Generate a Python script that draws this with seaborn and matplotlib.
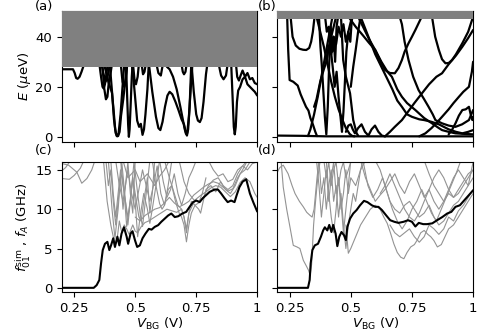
import matplotlib
matplotlib.use("Agg")
import matplotlib.pyplot as plt
import seaborn as sns

# ---- panel (a): quasiparticle spectrum E (ueV) vs V_BG, device 1 ----
a1_v = [0.20, 0.245, 0.252, 0.258, 0.264, 0.272, 0.28, 0.287, 0.292]
a1_e = [27, 27, 25.5, 23.5, 23.2, 24, 26, 28, 30]
a2_v = [0.37, 0.39, 0.405, 0.412, 0.418, 0.424, 0.43, 0.436, 0.442, 0.451, 0.46, 0.468]
a2_e = [30, 22, 17.5, 10, 3, 0.4, 0.3, 2, 8.5, 15, 23, 30]
a3_v = [0.395, 0.405, 0.413, 0.42, 0.426, 0.432, 0.44, 0.448, 0.456]
a3_e = [30, 18, 7, 1.5, 0.2, 1.5, 9, 20, 30]
a4_v = [0.352, 0.36, 0.366, 0.371, 0.376, 0.382, 0.388]
a4_e = [30, 24, 20, 19.3, 21, 25, 30]
a5_v = [0.462, 0.467, 0.471, 0.474, 0.477, 0.481, 0.486, 0.49]
a5_e = [30, 16, 5, 0, 3, 12, 24, 30]
a6_v = [0.485, 0.492, 0.499, 0.508, 0.516, 0.523, 0.53, 0.536, 0.542, 0.55, 0.556]
a6_e = [30, 24, 16.5, 6.5, 4, 5.2, 0.8, 3, 9, 19, 30]
a7_v = [0.49, 0.497, 0.503, 0.51, 0.516]
a7_e = [30, 23, 21, 24, 30]
a8_v = [0.555, 0.57, 0.585, 0.595, 0.603, 0.612, 0.622, 0.632, 0.641, 0.652, 0.665,
        0.678, 0.69, 0.70, 0.707, 0.712, 0.717, 0.723, 0.73]
a8_e = [30, 18, 8, 3.5, 2.7, 6, 12, 16.5, 18, 17, 14, 10.5, 7, 5, 2, 0.5, 3, 12, 30]
a9_v = [0.62, 0.63, 0.641, 0.655, 0.67, 0.685, 0.695, 0.703, 0.708, 0.713, 0.72, 0.728, 0.735]
a9_e = [30, 28, 27, 24, 19, 12, 7, 3, 1.2, 1.5, 8, 20, 30]
a10_v = [0.688, 0.695, 0.70, 0.706, 0.712]
a10_e = [30, 26, 25, 26, 30]
a11_v = [0.73, 0.74, 0.75, 0.757, 0.765, 0.772, 0.78, 0.79, 0.797]
a11_e = [30, 18, 9, 6.5, 5.9, 7.5, 14, 25, 30]
a12_v = [0.84, 0.852, 0.862, 0.872, 0.88]
a12_e = [30, 24.5, 23, 24.5, 30]
a13_v = [0.893, 0.899, 0.904, 0.908, 0.912, 0.917, 0.922, 0.93, 0.94, 0.95, 0.96, 0.97,
         0.98, 0.99, 1.0]
a13_e = [30, 16, 4, 1, 4, 14, 18.5, 20, 23, 24, 21, 20, 19, 18, 16.5]
a14_v = [0.912, 0.918, 0.925, 0.932, 0.94, 0.95, 0.96, 0.97, 0.98, 0.99, 1.0]
a14_e = [30, 24, 22.5, 24.5, 26.5, 24, 25.5, 23, 23.5, 21.5, 21]
a15_v = [0.36, 0.368, 0.378, 0.386, 0.392, 0.398]
a15_e = [30, 26, 22, 23.5, 27, 30]
a16_v = [0.525, 0.532, 0.538, 0.545]
a16_e = [30, 25, 26, 30]
a17_v = [0.365, 0.372, 0.38, 0.386, 0.392, 0.40, 0.406]
a17_e = [30, 20, 15, 16, 22, 26, 30]
a18_v = [0.44, 0.448, 0.455, 0.462, 0.468]
a18_e = [30, 22, 20, 23, 30]
a19_v = [0.585, 0.595, 0.605, 0.615]
a19_e = [30, 25.5, 24.5, 30]
a_gap = 28  # bottom of grey continuum in (a)

# ---- panel (b): spectrum, device 2 ----
b0_v = [0.2, 0.3, 0.4, 0.5, 0.6, 0.7, 0.8, 0.9, 1.0]
b0_e = [0.5, 0.4, 0.2, 0.2, 0.2, 0.2, 0.2, 0.2, 0.2]
b1_v = [0.24, 0.244, 0.25, 0.265, 0.283, 0.295, 0.305, 0.317, 0.327, 0.335, 0.345, 0.355, 0.362]
b1_e = [48, 35, 22.7, 22, 20.5, 17, 14.7, 12, 10.5, 7.5, 5, 2, 0.3]
b2_v = [0.254, 0.262, 0.275, 0.29, 0.305, 0.318, 0.33, 0.338, 0.345, 0.352]
b2_e = [48, 40, 36.5, 35.2, 34.8, 34.7, 35.5, 38, 42, 48]
b3_v = [0.325, 0.335, 0.35, 0.365, 0.38, 0.395, 0.41, 0.425]
b3_e = [0.3, 3, 9, 16, 24, 32, 40, 48]
b4_v = [0.36, 0.375, 0.39, 0.405, 0.42, 0.435, 0.45, 0.465, 0.48, 0.495, 0.505, 0.515]
b4_e = [48, 42, 36, 29, 22, 16, 11, 7, 3.5, 1.2, 0.4, 0.2]
b5_v = [0.37, 0.376, 0.382, 0.388, 0.394, 0.40, 0.406, 0.412, 0.418, 0.424, 0.43, 0.436,
        0.442, 0.448]
b5_e = [48, 36, 28, 18, 8, 1, 12, 30, 44, 34, 40, 30, 44, 48]
b6_v = [0.395, 0.402, 0.41, 0.418, 0.426, 0.434, 0.442, 0.45, 0.458, 0.464, 0.47, 0.476,
        0.482, 0.49, 0.498, 0.505]
b6_e = [48, 42, 44, 35, 28, 20, 26, 16, 8, 2, 10, 22, 34, 42, 38, 48]
b7_v = [0.40, 0.41, 0.42, 0.43, 0.44, 0.45, 0.46, 0.47, 0.48, 0.49, 0.50, 0.51]
b7_e = [30, 36, 33, 40, 37, 44, 40, 45, 38, 42, 46, 48]
b8_v = [0.48, 0.49, 0.50, 0.508, 0.517, 0.53, 0.544, 0.558, 0.572, 0.585, 0.599, 0.613,
        0.627, 0.64]
b8_e = [2, 4.5, 5, 3, 1.4, 3.5, 5, 2, 0.5, 3, 4.5, 2, 0.5, 0.2]
b9_v = [0.53, 0.55, 0.575, 0.60, 0.625, 0.65, 0.668, 0.69, 0.709, 0.73, 0.764, 0.80,
        0.832, 0.86, 0.873, 0.90, 0.928, 0.96, 1.0]
b9_e = [48, 44, 39, 34.7, 30, 26, 24, 19, 16, 13.5, 10.7, 7.5, 5.4, 3.5, 2.7, 2, 1.4, 1.2, 1.0]
b10_v = [0.54, 0.56, 0.58, 0.60, 0.625, 0.65, 0.67, 0.69, 0.709, 0.73, 0.75, 0.78, 0.80,
         0.83, 0.86, 0.88, 0.90, 0.93, 0.956, 0.98, 1.0]
b10_e = [48, 43, 38, 33, 28, 23, 19, 14.5, 12, 9, 8, 7, 6.7, 6, 5, 4, 3, 2, 1.4, 2, 2.7]
b11_v = [0.49, 0.52, 0.55, 0.575, 0.60, 0.62, 0.64, 0.66, 0.68, 0.695, 0.709, 0.72,
         0.736, 0.75, 0.764, 0.79]
b11_e = [48, 44, 40.5, 37.5, 34.7, 30.5, 26.7, 25.5, 25.4, 27.5, 30.7, 34, 37.4, 40, 42.7, 48]
b12_v = [0.64, 0.66, 0.68, 0.709, 0.73, 0.76, 0.791, 0.82, 0.85, 0.873, 0.90, 0.93,
         0.956, 0.98, 1.0]
b12_e = [0.2, 2, 4, 6.7, 9.5, 13.5, 17.4, 21, 24, 25.4, 29, 32.5, 36, 39.5, 42.7]
b13_v = [0.78, 0.805, 0.83, 0.85, 0.873, 0.90, 0.92, 0.942, 0.96, 0.983, 0.995, 1.0]
b13_e = [0.2, 1.4, 3.5, 5.5, 8, 11, 13.5, 16, 18, 20, 26, 30]
b14_v = [0.832, 0.845, 0.86, 0.873, 0.887, 0.9, 0.914, 0.93, 0.956, 0.98, 1.0]
b14_e = [48, 40, 34.7, 31, 29.4, 29.5, 30.7, 33, 37.4, 42, 48]
b15_v = [0.90, 0.915, 0.928, 0.942, 0.956, 0.97, 0.983, 0.99, 0.997, 1.0]
b15_e = [1, 3, 5.4, 8.5, 10.7, 11, 12, 9, 6.7, 8]
b16_v = [0.70, 0.709, 0.72, 0.736, 0.755, 0.777, 0.80, 0.818, 0.835, 0.846, 0.873, 0.90,
         0.928, 0.955, 0.983, 1.0]
b16_e = [48, 45, 38, 30.7, 24, 18.7, 15, 12, 9, 6.7, 5.4, 4.5, 4, 5, 6.7, 10.7]
b17_v = [0.35, 0.36, 0.375, 0.39, 0.40, 0.41, 0.425, 0.44]
b17_e = [12, 15, 22, 27, 30, 36, 42, 48]
b18_v = [0.46, 0.469, 0.48, 0.497, 0.51, 0.524, 0.53]
b18_e = [48, 30.7, 24, 17.4, 6.7, 1.4, 0.5]
b19_v = [0.50, 0.51, 0.52, 0.53, 0.54]
b19_e = [20, 28, 34.7, 42, 48]
b_gap = 47  # bottom of grey continuum in (b)

# ---- panel (c): f_A (black) and simulated f01 (grey), device 1 ----
c_fa_v = [0.20, 0.33, 0.342, 0.353, 0.36, 0.367, 0.376, 0.386, 0.394, 0.401, 0.41, 0.417,
          0.427, 0.435, 0.444, 0.454, 0.465, 0.471, 0.481, 0.489, 0.499, 0.508, 0.519,
          0.53, 0.542, 0.556, 0.567, 0.58, 0.594, 0.607, 0.621, 0.635, 0.648, 0.662,
          0.676, 0.693, 0.709, 0.723, 0.737, 0.75, 0.764, 0.777, 0.791, 0.805, 0.825,
          0.839, 0.852, 0.866, 0.879, 0.893, 0.907, 0.916, 0.927, 0.94, 0.955, 0.97,
          0.985, 1.0]
c_fa_f = [0, 0, 0.34, 1, 3.1, 4.8, 5.6, 5.85, 4.8, 5.4, 6.3, 5.2, 6.5, 5.4, 6.9, 7.7, 6.5,
          5.6, 6.9, 7.2, 6.06, 5.2, 5.4, 6.3, 6.9, 7.5, 7.4, 7.75, 7.97, 8.4, 8.8, 9.2,
          9.45, 9.0, 9.1, 9.45, 9.66, 10.3, 10.9, 11.1, 10.9, 11.4, 11.8, 12.2, 12.5,
          12.5, 12, 11.4, 10.9, 11.1, 10.9, 11.8, 12.8, 13.5, 13.8, 12, 10.8, 9.7]
cg1_v = [0.2, 0.227, 0.261, 0.281, 0.302, 0.322, 0.335]
cg1_f = [15.8, 15.6, 14.7, 13.3, 13.9, 15, 16.2]
cg2_v = [0.2, 0.23, 0.25, 0.275, 0.29]
cg2_f = [13.9, 13.8, 14.3, 15.2, 16.2]
cg3_v = [0.2, 0.215, 0.235]
cg3_f = [14.9, 15.3, 16.2]
cg4_v = [0.37, 0.385, 0.40, 0.41, 0.418, 0.425, 0.435, 0.445, 0.455, 0.465, 0.475, 0.49,
         0.50, 0.51, 0.525, 0.54, 0.555, 0.57, 0.59, 0.61, 0.63, 0.65, 0.67, 0.69, 0.70,
         0.71, 0.72, 0.735, 0.75, 0.77, 0.79, 0.81, 0.83, 0.85, 0.87, 0.89, 0.91, 0.93,
         0.95, 0.97, 0.99, 1.0]
cg4_f = [16.2, 11, 8, 6.5, 5.5, 6, 8.5, 7, 8, 7.5, 6.8, 8, 7.2, 7, 7.8, 8.3, 8.5, 8.8,
         9.2, 9.6, 10, 9.8, 9.6, 10, 9, 7.5, 9.5, 10.5, 11.3, 11.8, 12.2, 12.7, 13, 12.8,
         12.2, 11.6, 12.2, 13.4, 14, 13.5, 12, 11.5]
cg5_v = [0.39, 0.405, 0.417, 0.43, 0.445, 0.46, 0.47, 0.48, 0.495, 0.51, 0.52, 0.53, 0.545, 0.56]
cg5_f = [16.2, 10, 6.3, 10, 16, 11, 8, 11, 16, 12, 9.5, 7.8, 12, 16.2]
cg6_v = [0.40, 0.41, 0.42, 0.43, 0.44, 0.455, 0.465, 0.475, 0.49, 0.50, 0.515, 0.525,
         0.535, 0.55, 0.56, 0.57, 0.58]
cg6_f = [16.2, 12, 9, 12, 15, 12, 7.8, 10, 14, 12, 9, 8.6, 11, 14, 9.5, 12, 16.2]
cg7_v = [0.42, 0.435, 0.45, 0.46, 0.47, 0.485, 0.50, 0.515, 0.53, 0.545, 0.56, 0.575,
         0.59, 0.605, 0.62, 0.635, 0.65]
cg7_f = [16.2, 13, 11, 13, 15, 12, 10, 12.5, 15, 13, 11, 13, 15.5, 12, 10.5, 13, 16.2]
cg8_v = [0.57, 0.585, 0.60, 0.61, 0.62, 0.635, 0.65, 0.665, 0.68, 0.69, 0.70, 0.71, 0.72,
         0.73, 0.745, 0.76, 0.775, 0.79]
cg8_f = [16.2, 13, 10.7, 10, 10.5, 12.5, 13, 11, 9.5, 9, 8, 5.85, 8, 9.5, 10.5, 10.8, 12, 14]
cg9_v = [0.62, 0.64, 0.66, 0.675, 0.69, 0.70, 0.71, 0.72, 0.73, 0.745, 0.76, 0.768, 0.775,
         0.79, 0.81, 0.83, 0.85, 0.87, 0.89, 0.91, 0.93, 0.95, 0.97, 0.99]
cg9_f = [16.2, 14, 12, 10.5, 10, 9, 7, 9.5, 11, 10.5, 10, 9.5, 10.5, 12.5, 13, 12.2, 13.5,
         12.5, 12, 13, 14.5, 15, 16, 16.2]
cg10_v = [0.68, 0.70, 0.72, 0.74, 0.76, 0.78, 0.80, 0.82, 0.84, 0.86, 0.88, 0.90, 0.92, 0.94, 0.96]
cg10_f = [16.2, 13.5, 12, 11.2, 11, 11.5, 13, 13.7, 14, 13, 12.5, 13, 14.5, 15.5, 16.2]
cg11_v = [0.80, 0.82, 0.84, 0.86, 0.88, 0.90, 0.92, 0.94, 0.96, 0.98, 1.0]
cg11_f = [16.2, 15, 14.2, 14.5, 13.5, 13.8, 15, 15.5, 15, 15.8, 16]
cg12_v = [0.45, 0.47, 0.50, 0.52, 0.55, 0.58, 0.60, 0.62, 0.64]
cg12_f = [16.2, 14, 15, 13.5, 14.5, 13, 14.2, 15, 16.2]
cg13_v = [0.38, 0.39, 0.40, 0.41, 0.42, 0.43, 0.44, 0.45, 0.46, 0.47, 0.48, 0.49, 0.50]
cg13_f = [16.2, 13, 15, 11, 8, 11, 14, 10, 13, 16, 12, 9.5, 16.2]
cg14_v = [0.50, 0.52, 0.54, 0.56, 0.58, 0.60, 0.62, 0.64, 0.66, 0.68, 0.70, 0.72, 0.74,
          0.76, 0.78, 0.80, 0.82, 0.84, 0.86, 0.88, 0.90, 0.92, 0.94, 0.96]
cg14_f = [9, 8.5, 9.2, 9.6, 10, 10.2, 10.8, 11.5, 10.8, 10.3, 10.6, 11, 11.8, 12.3, 12.8,
          13.2, 13.5, 13.3, 12.8, 12.3, 12.6, 14, 15, 16.2]
cg15_v = [0.44, 0.455, 0.47, 0.48, 0.49, 0.50, 0.51, 0.52, 0.535, 0.55, 0.56, 0.57, 0.585, 0.60]
cg15_f = [16.2, 12, 9, 11, 14, 11, 6.5, 9, 12, 10, 8.2, 10, 13, 16.2]
cg16_v = [0.60, 0.615, 0.63, 0.645, 0.66, 0.675, 0.69, 0.705, 0.72, 0.735, 0.75]
cg16_f = [16.2, 13.5, 11.5, 12.5, 14.5, 12, 10.5, 12, 14, 15, 16.2]

# ---- panel (d): f_A (black) and simulated f01 (grey), device 2 ----
d_fa_v = [0.20, 0.325, 0.332, 0.336, 0.343, 0.353, 0.366, 0.378, 0.387, 0.394, 0.404,
          0.412, 0.421, 0.428, 0.438, 0.445, 0.453, 0.462, 0.472, 0.48, 0.486, 0.497,
          0.51, 0.524, 0.538, 0.554, 0.568, 0.586, 0.6, 0.613, 0.627, 0.645, 0.661,
          0.678, 0.695, 0.716, 0.734, 0.75, 0.764, 0.778, 0.796, 0.812, 0.833, 0.853,
          0.874, 0.894, 0.911, 0.928, 0.946, 0.963, 0.983, 1.0]
d_fa_f = [0, 0, 1, 3.1, 4.8, 5.4, 5.6, 6.5, 7.3, 7.7, 7.3, 8.0, 7.1, 8.0, 6.9, 5.3, 6.5,
          7.1, 6.7, 6.06, 7.75, 8.8, 9.45, 9.9, 10.5, 11.06, 10.9, 10.5, 10.3, 10.3, 9.9,
          9.2, 8.6, 8.4, 8.26, 8.4, 8.6, 8.4, 7.8, 8.26, 8.1, 8.1, 8.2, 8.6, 9.0, 9.45,
          9.66, 10.3, 10.5, 11.1, 11.8, 12.4]
dg1_v = [0.198, 0.21, 0.224, 0.244, 0.26, 0.272, 0.29, 0.306, 0.32, 0.334, 0.342, 0.35,
         0.356, 0.362, 0.37]
dg1_f = [14.6, 15.3, 15.6, 14.5, 13, 12, 11, 10.3, 9.6, 9.2, 9, 10, 12, 14, 16.2]
dg2_v = [0.215, 0.224, 0.238, 0.251, 0.265, 0.28, 0.292, 0.306, 0.318, 0.327, 0.334,
         0.34, 0.348, 0.356, 0.365, 0.375]
dg2_f = [16.2, 12.8, 10, 7.8, 5.4, 5.2, 5, 3.5, 2.8, 2.25, 1.6, 3, 8, 11, 14, 16.2]
dg3_v = [0.37, 0.38, 0.39, 0.40, 0.41, 0.42, 0.43, 0.44, 0.45, 0.46, 0.47, 0.48, 0.49,
         0.50, 0.51, 0.52, 0.53, 0.54, 0.55]
dg3_f = [16.2, 12, 14, 10, 13, 15, 11, 13, 9, 12, 8, 5, 8, 10, 12, 11, 13, 15, 16.2]
dg4_v = [0.36, 0.37, 0.38, 0.39, 0.40, 0.41, 0.42, 0.43, 0.44, 0.45, 0.46, 0.47, 0.48,
         0.49, 0.50, 0.52, 0.54, 0.56]
dg4_f = [16.2, 13, 9, 12, 15, 11, 14, 16, 12, 14, 10, 12, 15, 12, 14, 13, 15, 16.2]
dg5_v = [0.39, 0.40, 0.41, 0.42, 0.43, 0.44, 0.45, 0.46, 0.47, 0.48, 0.49, 0.50, 0.51]
dg5_f = [16.2, 14, 16, 13, 15, 16, 13, 15, 16, 14, 15, 16, 16.2]
dg6_v = [0.48, 0.49, 0.50, 0.52, 0.54, 0.56, 0.58, 0.60, 0.62, 0.635, 0.649, 0.662, 0.676,
         0.69, 0.704, 0.717, 0.73, 0.745, 0.76, 0.772, 0.786, 0.80, 0.815, 0.827, 0.84,
         0.854, 0.87, 0.885, 0.90, 0.92, 0.94, 0.96, 0.98, 1.0]
dg6_f = [8, 4.4, 5, 6.5, 8, 9, 10, 10.5, 10, 9, 8.2, 7, 5.6, 4.5, 3.9, 3.7, 4.5, 5.2, 5.5,
         6.1, 7, 7.3, 6.8, 6.5, 6, 5.2, 5.5, 6.5, 7.5, 8, 9, 10, 11, 12]
dg7_v = [0.54, 0.56, 0.58, 0.60, 0.62, 0.64, 0.66, 0.68, 0.70, 0.72, 0.74, 0.76, 0.78,
         0.80, 0.82, 0.84, 0.86, 0.88, 0.90, 0.92, 0.94, 0.96, 0.98, 1.0]
dg7_f = [16.2, 14, 12.5, 11, 11.8, 12.5, 13.5, 14.5, 13, 12, 13.5, 14.5, 13, 11.5, 12.5,
         14, 15, 14, 12.5, 11.5, 12, 13, 14, 15]
dg8_v = [0.60, 0.62, 0.64, 0.66, 0.68, 0.70, 0.72, 0.74, 0.76, 0.78, 0.80, 0.82, 0.84,
         0.86, 0.88, 0.90, 0.92, 0.94, 0.96, 0.98, 1.0]
dg8_f = [16.2, 15, 13, 11, 10, 9.5, 10.5, 11, 10, 9, 9.5, 10.5, 9, 8, 8.5, 9.5, 10.5, 11,
         12, 13, 14]
dg9_v = [0.66, 0.68, 0.70, 0.72, 0.74, 0.76, 0.78, 0.80, 0.82, 0.84, 0.86, 0.88, 0.90,
         0.92, 0.94, 0.96, 0.98, 1.0]
dg9_f = [8, 7, 6.5, 7, 7.5, 6.5, 5.8, 6.5, 8, 7.5, 6.8, 7.5, 9, 8.5, 9.8, 10.5, 11.5, 12.5]
dg10_v = [0.80, 0.82, 0.84, 0.86, 0.88, 0.90, 0.92, 0.94, 0.96, 0.98, 1.0]
dg10_f = [16.2, 14.5, 13, 12, 11, 12.5, 14, 15, 14, 13, 16]
dg11_v = [0.55, 0.57, 0.59, 0.61, 0.63, 0.65, 0.67, 0.69, 0.71, 0.73, 0.75, 0.77, 0.79,
          0.81, 0.83, 0.85, 0.87, 0.89, 0.91, 0.93, 0.95]
dg11_f = [16.2, 13, 11.5, 12.5, 14, 12, 10, 8.5, 7.5, 8.5, 10, 11, 12.5, 11, 9.5, 8.5, 10,
          11.5, 13, 14.5, 16.2]
dg12_v = [0.62, 0.64, 0.66, 0.68, 0.70, 0.72, 0.74, 0.76, 0.78, 0.80, 0.82, 0.84, 0.86,
          0.88, 0.90, 0.92, 0.94, 0.96, 0.98, 1.0]
dg12_f = [12, 13, 14.5, 13, 11.5, 10, 9, 8.5, 9.5, 11, 12.5, 11, 10, 11, 12, 11.5, 12.5,
          13.5, 14.5, 15]
dg13_v = [0.40, 0.41, 0.42, 0.43, 0.44, 0.45, 0.46, 0.47, 0.48, 0.49, 0.50]
dg13_f = [16.2, 12, 9, 7, 10, 14, 11, 7, 10, 13, 16.2]

a_lines = [(a1_v, a1_e), (a2_v, a2_e), (a3_v, a3_e), (a4_v, a4_e), (a5_v, a5_e),
           (a6_v, a6_e), (a7_v, a7_e), (a8_v, a8_e), (a9_v, a9_e), (a10_v, a10_e),
           (a11_v, a11_e), (a12_v, a12_e), (a13_v, a13_e), (a14_v, a14_e),
           (a15_v, a15_e), (a16_v, a16_e), (a17_v, a17_e), (a18_v, a18_e),
           (a19_v, a19_e)]
b_lines = [(b0_v, b0_e), (b1_v, b1_e), (b2_v, b2_e), (b3_v, b3_e), (b4_v, b4_e),
           (b5_v, b5_e), (b6_v, b6_e), (b7_v, b7_e), (b8_v, b8_e), (b9_v, b9_e),
           (b10_v, b10_e), (b11_v, b11_e), (b12_v, b12_e), (b13_v, b13_e),
           (b14_v, b14_e), (b15_v, b15_e), (b16_v, b16_e), (b17_v, b17_e),
           (b18_v, b18_e), (b19_v, b19_e)]
c_grey = [(cg1_v, cg1_f), (cg2_v, cg2_f), (cg3_v, cg3_f), (cg4_v, cg4_f), (cg5_v, cg5_f),
          (cg6_v, cg6_f), (cg7_v, cg7_f), (cg8_v, cg8_f), (cg9_v, cg9_f),
          (cg10_v, cg10_f), (cg11_v, cg11_f), (cg12_v, cg12_f), (cg13_v, cg13_f),
          (cg14_v, cg14_f), (cg15_v, cg15_f), (cg16_v, cg16_f)]
d_grey = [(dg1_v, dg1_f), (dg2_v, dg2_f), (dg3_v, dg3_f), (dg4_v, dg4_f), (dg5_v, dg5_f),
          (dg6_v, dg6_f), (dg7_v, dg7_f), (dg8_v, dg8_f), (dg9_v, dg9_f),
          (dg10_v, dg10_f), (dg11_v, dg11_f), (dg12_v, dg12_f), (dg13_v, dg13_f)]

xticks = [0.25, 0.5, 0.75, 1.0]
xticklabels = ['0.25', '0.5', '0.75', '1']

sns.set_style('ticks')
plt.rcParams['font.family'] = ['DejaVu Sans']
plt.rcParams['font.size'] = 9.5
plt.rcParams['axes.edgecolor'] = 'black'
plt.rcParams['xtick.color'] = 'black'
plt.rcParams['ytick.color'] = 'black'
plt.rcParams['text.color'] = 'black'
plt.rcParams['axes.labelcolor'] = 'black'

fig = plt.figure(figsize=(4.98, 3.32), dpi=100)
ax_a = fig.add_axes([0.1245, 0.572, 0.392, 0.395])
ax_b = fig.add_axes([0.557, 0.572, 0.393, 0.395])
ax_c = fig.add_axes([0.1245, 0.120, 0.392, 0.392])
ax_d = fig.add_axes([0.557, 0.120, 0.393, 0.392])


def draw(ax, lines, color, lw, z):
    for xs, ys in lines:
        sns.lineplot(x=xs, y=ys, ax=ax, color=color, lw=lw, sort=False,
                     estimator=None, zorder=z)


draw(ax_a, a_lines, 'black', 1.6, 2)
draw(ax_b, b_lines, 'black', 1.6, 2)
ax_a.axhspan(a_gap, 60, color='grey', zorder=3, lw=0)
ax_b.axhspan(b_gap, 60, color='grey', zorder=3, lw=0)

draw(ax_c, c_grey, '#939393', 0.8, 2)
draw(ax_d, d_grey, '#939393', 0.8, 2)
draw(ax_c, [(c_fa_v, c_fa_f)], 'black', 1.5, 3)
draw(ax_d, [(d_fa_v, d_fa_f)], 'black', 1.5, 3)

for ax in (ax_a, ax_b):
    ax.set_ylim(-2.1, 50.3)
    ax.set_yticks([0, 20, 40])
for ax in (ax_c, ax_d):
    ax.set_ylim(-0.55, 16)
    ax.set_yticks([0, 5, 10, 15])
for ax in (ax_a, ax_b, ax_c, ax_d):
    ax.set_xlim(0.2, 1.0)
    ax.set_xticks(xticks)
    ax.set_xticklabels(xticklabels)
    ax.set_xlabel('')
    ax.set_ylabel('')
    for s in ax.spines.values():
        s.set_visible(True)
        s.set_linewidth(0.8)
for ax in (ax_a, ax_b):
    ax.set_xticklabels([])
for ax in (ax_b, ax_d):
    ax.set_yticklabels([])

ax_a.set_ylabel(r'$E$ ($\mu$eV)', labelpad=2)
ax_c.set_ylabel(r'$f_{01}^{\rm sim}$ , $f_{A}$ (GHz)', labelpad=2)
ax_c.set_xlabel(r'$V_{\rm BG}$ (V)', labelpad=1)
ax_d.set_xlabel(r'$V_{\rm BG}$ (V)', labelpad=1)

fig.text(0.070, 1.0, '(a)', va='top', ha='left')
fig.text(0.518, 1.0, '(b)', va='top', ha='left')
fig.text(0.070, 0.565, '(c)', va='top', ha='left')
fig.text(0.518, 0.565, '(d)', va='top', ha='left')

fig.savefig('out.png', dpi=100)
